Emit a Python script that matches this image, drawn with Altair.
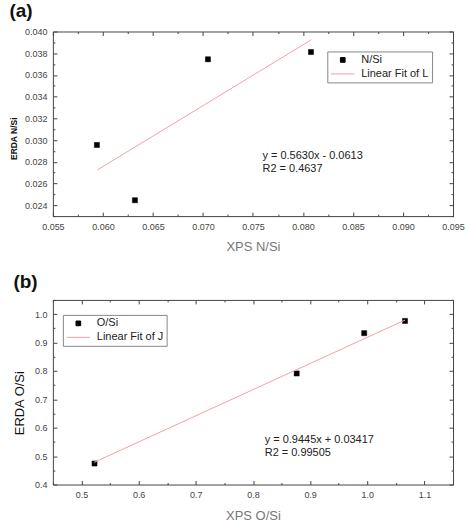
import altair as alt
import pandas as pd

FONT = "Liberation Sans"

# ---------------- Panel (a) ----------------
a_x = [0.0594, 0.0632, 0.0705, 0.0808]
a_y = [0.02955, 0.02446, 0.03744, 0.03811]
a_fit_x = [0.05946, 0.08084]
a_fit_y = [0.02726, 0.03924]
a_series = ["N/Si", "Linear Fit of L"]
a_eq = ["y = 0.5630x - 0.0613", "R2 = 0.4637"]
a_x_ticks = [0.055, 0.060, 0.065, 0.070, 0.075, 0.080, 0.085, 0.090, 0.095]
a_x_minor = [0.0575, 0.0625, 0.0675, 0.0725, 0.0775, 0.0825, 0.0875, 0.0925]
a_y_ticks = [0.024, 0.026, 0.028, 0.030, 0.032, 0.034, 0.036, 0.038, 0.040]
a_y_minor = [0.023, 0.025, 0.027, 0.029, 0.031, 0.033, 0.035, 0.037, 0.039]

# ---------------- Panel (b) ----------------
b_x = [0.5228, 0.8765, 0.9946, 1.066]
b_y = [0.474, 0.791, 0.933, 0.976]
b_fit_x = [0.522, 1.066]
b_fit_y = [0.478, 0.979]
b_series = ["O/Si", "Linear Fit of J"]
b_eq = ["y = 0.9445x + 0.03417", "R2 = 0.99505"]
b_x_ticks = [0.5, 0.6, 0.7, 0.8, 0.9, 1.0, 1.1]
b_x_minor = [0.45, 0.55, 0.65, 0.75, 0.85, 0.95, 1.05, 1.15]
b_y_ticks = [0.4, 0.5, 0.6, 0.7, 0.8, 0.9, 1.0]
b_y_minor = [0.45, 0.55, 0.65, 0.75, 0.85, 0.95, 1.05]

W, H = 401, 185
FIT = "#f4a0a8"


def axis(orient, values, fmt="", labels=False, size=4, title=None, **kw):
    args = dict(orient=orient, values=values, labels=labels, domain=False,
                grid=False, tickSize={"expr": str(-size)}, tickWidth=1,
                tickColor="#444", labelPadding=size + 6, title=title,
                labelFlush=False)
    if fmt:
        args["format"] = fmt
    args.update(kw)
    return alt.Axis(**args)


def panel(label, px, py, fx, fy, series, eq, xdom, ydom, xt, xm, yt, ym, fmt,
          xtitle, xtitle_pad, ytitle, ytitle_kw, eq_x, eq_y, leg_xy):
    sx = alt.Scale(domain=xdom, nice=False, zero=False)
    sy = alt.Scale(domain=ydom, nice=False, zero=False)
    pts = pd.DataFrame({"x": px, "y": py, "s": series[0]})
    fit = pd.DataFrame({"x": fx, "y": fy, "s": series[1]})
    leg = alt.Legend(title=None, orient="none", legendX=leg_xy[0], legendY=leg_xy[1],
                     strokeColor="#888", padding=3, labelFont=FONT, labelFontSize=11,
                     labelColor="#222", symbolSize=22, symbolStrokeWidth=1,
                     symbolOpacity=1, labelOffset=13, rowPadding=2, symbolOffset=7)
    fill_s = alt.Scale(domain=series, range=["#000000", FIT])
    stroke_s = alt.Scale(domain=series, range=["#000000", FIT])
    shape_s = alt.Scale(domain=series, range=["square", "M-5,0H5"])

    xt_title_kw = dict(titleFont=FONT, titleFontSize=13, titleColor="#777",
                       titleFontWeight="normal", titlePadding=xtitle_pad)
    lab_kw = dict(labelFont=FONT, labelFontSize=9, labelColor="#444")

    points = alt.Chart(pts).mark_point(filled=True, size=26, strokeWidth=0.5,
                                       opacity=1).encode(
        x=alt.X("x:Q", scale=sx, axis=axis("bottom", xt, fmt, labels=True, title=xtitle,
                                            **xt_title_kw, **lab_kw)),
        y=alt.Y("y:Q", scale=sy, axis=axis("left", yt, fmt, labels=True, title=ytitle,
                                            **ytitle_kw, **lab_kw)),
        fill=alt.Fill("s:N", scale=fill_s, legend=leg),
        stroke=alt.Stroke("s:N", scale=stroke_s, legend=leg),
        shape=alt.Shape("s:N", scale=shape_s, legend=leg),
    )
    line = alt.Chart(fit).mark_line(strokeWidth=1).encode(
        x=alt.X("x:Q", scale=sx, axis=axis("bottom", xm, size=2)),
        y=alt.Y("y:Q", scale=sy, axis=axis("left", ym, size=2)),
        stroke=alt.Stroke("s:N", scale=stroke_s, legend=leg),
    )
    t1 = alt.Chart(pd.DataFrame({"x": [eq_x], "y": [eq_y[0]], "t": [eq[0]]})).mark_text(
        align="left", baseline="middle", font=FONT, fontSize=11, color="#222").encode(
        x=alt.X("x:Q", scale=sx, axis=axis("top", xt)),
        y=alt.Y("y:Q", scale=sy, axis=axis("right", yt)),
        text="t:N")
    t2 = alt.Chart(pd.DataFrame({"x": [eq_x], "y": [eq_y[1]], "t": [eq[1]]})).mark_text(
        align="left", baseline="middle", font=FONT, fontSize=11, color="#222").encode(
        x=alt.X("x:Q", scale=sx, axis=axis("top", xm, size=2)),
        y=alt.Y("y:Q", scale=sy, axis=axis("right", ym, size=2)),
        text="t:N")
    return alt.layer(points, line, t1, t2).properties(
        width=W, height=H,
        title=alt.TitleParams(label, anchor="start", frame="bounds", font=FONT,
                              fontSize=19, fontWeight="bold", color="#111", offset=7),
    ).resolve_axis(x="independent", y="independent")


pa = panel("(a)", a_x, a_y, a_fit_x, a_fit_y, a_series, a_eq, [0.055, 0.095],
           [0.023, 0.040], a_x_ticks, a_x_minor, a_y_ticks, a_y_minor, ".3f",
           "XPS N/Si", 9, "ERDA N/Si",
           dict(titleFont=FONT, titleFontSize=8.5, titleFontWeight="bold",
                titleColor="#111", titlePadding=6, titleY=107),
           0.07595, [0.02851, 0.02732], (275, 20))
pb = panel("(b)", b_x, b_y, b_fit_x, b_fit_y, b_series, b_eq, [0.45, 1.15],
           [0.4, 1.05], b_x_ticks, b_x_minor, b_y_ticks, b_y_minor, ".1f",
           "XPS O/Si", 10, "ERDA O/Si",
           dict(titleFont=FONT, titleFontSize=13, titleFontWeight="normal",
                titleColor="#111", titlePadding=8, titleY=103),
           0.8206, [0.558, 0.510], (10, 15))

chart = alt.vconcat(pa, pb, spacing=19).resolve_scale(
    fill="independent", stroke="independent", shape="independent"
).resolve_legend(fill="independent", stroke="independent", shape="independent").configure(
    padding={"left": 8, "top": 0, "right": 0, "bottom": 0}
).configure_view(stroke="#444", strokeWidth=1)

chart.save("out.html", embed_options={"renderer": "svg", "actions": False})
